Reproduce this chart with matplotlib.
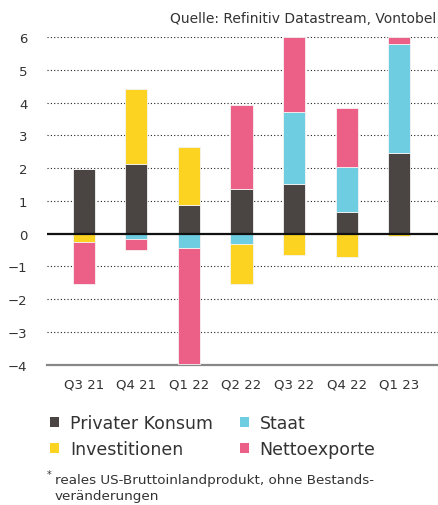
import matplotlib.pyplot as plt
import matplotlib
from matplotlib.patches import Patch
import numpy as np

matplotlib.rcParams['font.family'] = 'DejaVu Sans'

quartale = ['Q3 21', 'Q4 21', 'Q1 22', 'Q2 22', 'Q3 22', 'Q4 22', 'Q1 23']
konsum = [1.96, 2.12, 0.89, 1.35, 1.51, 0.67, 2.46]
staat = [0.0, -0.17, -0.43, -0.31, 2.21, 1.37, 3.31]
investitionen = [-0.24, 2.28, 1.74, -1.22, -0.64, -0.70, -0.08]
nettoexporte = [-1.29, -0.34, -3.55, 2.57, 2.28, 1.78, 0.23]

reihen = [('Privater Konsum', konsum, '#4a4542'),
          ('Staat', staat, '#6ecde0'),
          ('Investitionen', investitionen, '#fcd321'),
          ('Nettoexporte', nettoexporte, '#ec5f87')]

fig = plt.figure(figsize=(4.39, 5.06), dpi=100)
ax = fig.add_axes([0.107, 0.277, 0.891, 0.648])

x = np.arange(len(quartale))
pos = np.zeros(len(quartale))
neg = np.zeros(len(quartale))
for name, werte, farbe in reihen:
    werte = np.array(werte)
    unten = np.where(werte >= 0, pos, neg)
    ax.bar(x, werte, bottom=unten, width=0.42, color=farbe,
           edgecolor='#f4f4f4', linewidth=0.6, zorder=3)
    pos = pos + np.where(werte >= 0, werte, 0)
    neg = neg + np.where(werte < 0, werte, 0)

ax.set_ylim(-4, 6)
ax.set_xlim(-0.7, 6.74)
ax.set_yticks(range(-4, 7))
ax.set_yticklabels([str(v).replace('-', '\u2212') for v in range(-4, 7)])
ax.set_xticks(x)
ax.set_xticklabels(quartale)
ax.tick_params(axis='both', length=0, labelsize=9.5, colors='#333333')
ax.tick_params(axis='y', pad=14)
ax.tick_params(axis='x', pad=9)

for v in [-3, -2, -1, 1, 2, 3, 4, 5, 6]:
    ax.axhline(v, color='#222222', linestyle=(0, (1, 2)), linewidth=0.8, zorder=1)
ax.axhline(0, color='#111111', linewidth=1.6, zorder=4)

for s in ['top', 'right', 'left']:
    ax.spines[s].set_visible(False)
ax.spines['bottom'].set_color('#888888')
ax.spines['bottom'].set_linewidth(1.6)

fig.text(0.993, 0.962, 'Quelle: Refinitiv Datastream, Vontobel', ha='right',
         va='center', fontsize=10, color='#333333')

# Reihenfolge so, dass Zeile 1: Konsum, Staat / Zeile 2: Investitionen, Nettoexporte
reihenfolge = [0, 2, 1, 3]
handles = [Patch(facecolor=reihen[i][2], edgecolor='none') for i in reihenfolge]
labels = [reihen[i][0] for i in reihenfolge]
fig.legend(handles, labels, ncol=2, loc='upper left', bbox_to_anchor=(0.078, 0.21),
           frameon=False, fontsize=12.5, handlelength=0.55, handleheight=0.55,
           handletextpad=0.6, columnspacing=1.55, labelspacing=0.45,
           labelcolor='#333333')

fig.text(0.106, 0.061, '*', fontsize=7, color='#333333', va='center')
fig.text(0.125, 0.064, 'reales US-Bruttoinlandprodukt, ohne Bestands-\nveränderungen',
         fontsize=9.7, color='#333333', va='top', linespacing=1.3)

plt.savefig('out.png', dpi=100)
